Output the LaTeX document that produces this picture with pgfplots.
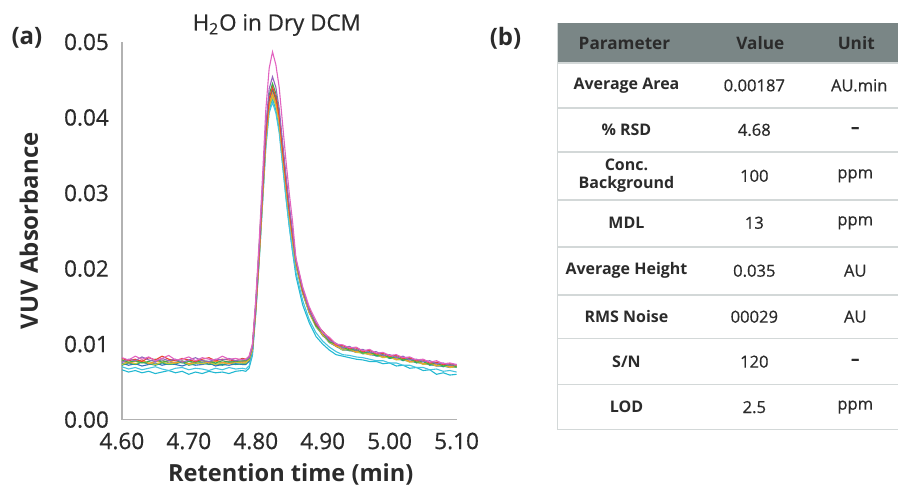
\documentclass[border=0pt]{standalone}
\usepackage{pgfplots}
\usepackage{pgfplotstable}
\pgfplotsset{compat=1.18}
\usepackage{fontspec}
\setmainfont{Open Sans}
\newfontfamily\tickfont[FakeBold=0.6]{Open Sans}

\definecolor{trA}{HTML}{E264C0}
\definecolor{trB}{HTML}{9467BD}
\definecolor{trC}{HTML}{E8432E}
\definecolor{trD}{HTML}{F29B2F}
\definecolor{trE}{HTML}{C9C83A}
\definecolor{trF}{HTML}{3DB04A}
\definecolor{trG}{HTML}{1F9E89}
\definecolor{trH}{HTML}{2F6FBF}
\definecolor{trI}{HTML}{22B8D2}
\definecolor{trJ}{HTML}{45C4DE}
\definecolor{trK}{HTML}{8C8C8C}
\definecolor{hdr}{HTML}{7A8686}
\definecolor{rule}{HTML}{D3D8D8}
\definecolor{txt}{HTML}{2B2B2B}

% eleven overlaid injections, absorbance in AU
\pgfplotstableread{
t      A      B      C      D      E      F      G      H      I      J      K
4.600  0.0082 0.0076 0.0081 0.0078 0.0073 0.0079 0.0072 0.0075 0.0066 0.0070 0.0077
4.610  0.0079 0.0080 0.0078 0.0075 0.0076 0.0076 0.0075 0.0072 0.0063 0.0067 0.0075
4.620  0.0084 0.0078 0.0080 0.0077 0.0074 0.0078 0.0073 0.0074 0.0065 0.0069 0.0078
4.630  0.0080 0.0083 0.0077 0.0079 0.0077 0.0075 0.0076 0.0071 0.0062 0.0066 0.0076
4.640  0.0083 0.0079 0.0082 0.0074 0.0075 0.0077 0.0074 0.0073 0.0064 0.0068 0.0074
4.650  0.0078 0.0077 0.0079 0.0077 0.0073 0.0080 0.0072 0.0075 0.0061 0.0070 0.0077
4.660  0.0081 0.0081 0.0084 0.0076 0.0076 0.0076 0.0075 0.0072 0.0063 0.0067 0.0079
4.670  0.0085 0.0078 0.0080 0.0078 0.0074 0.0078 0.0073 0.0074 0.0065 0.0065 0.0075
4.680  0.0079 0.0080 0.0078 0.0075 0.0075 0.0079 0.0074 0.0073 0.0062 0.0068 0.0076
4.690  0.0080 0.0076 0.0081 0.0077 0.0077 0.0075 0.0076 0.0071 0.0064 0.0069 0.0078
4.700  0.0083 0.0079 0.0079 0.0074 0.0073 0.0077 0.0072 0.0074 0.0060 0.0066 0.0074
4.710  0.0078 0.0082 0.0077 0.0076 0.0075 0.0076 0.0074 0.0072 0.0063 0.0068 0.0077
4.720  0.0082 0.0078 0.0080 0.0078 0.0074 0.0078 0.0075 0.0073 0.0061 0.0067 0.0075
4.730  0.0080 0.0077 0.0082 0.0075 0.0076 0.0077 0.0073 0.0075 0.0064 0.0065 0.0076
4.740  0.0079 0.0080 0.0078 0.0077 0.0073 0.0075 0.0074 0.0071 0.0062 0.0068 0.0078
4.750  0.0084 0.0079 0.0080 0.0076 0.0075 0.0078 0.0072 0.0073 0.0063 0.0066 0.0075
4.760  0.0080 0.0081 0.0079 0.0074 0.0074 0.0076 0.0075 0.0072 0.0061 0.0069 0.0077
4.770  0.0081 0.0078 0.0078 0.0077 0.0076 0.0077 0.0073 0.0074 0.0064 0.0067 0.0076
4.780  0.0079 0.0080 0.0081 0.0076 0.0075 0.0078 0.0074 0.0073 0.0065 0.0068 0.0077
4.785  0.0080 0.0079 0.0080 0.0077 0.0075 0.0078 0.0074 0.0073 0.0064 0.0067 0.0076
4.790  0.0084 0.0082 0.0083 0.0080 0.0079 0.0081 0.0078 0.0077 0.0068 0.0071 0.0080
4.795  0.0100 0.0096 0.0098 0.0094 0.0092 0.0097 0.0093 0.0092 0.0085 0.0088 0.0095
4.800  0.0160 0.0152 0.0150 0.0146 0.0144 0.0155 0.0150 0.0148 0.0140 0.0142 0.0147
4.805  0.0235 0.0225 0.0220 0.0215 0.0212 0.0228 0.0222 0.0218 0.0208 0.0210 0.0216
4.810  0.0320 0.0305 0.0300 0.0293 0.0290 0.0308 0.0300 0.0297 0.0285 0.0284 0.0295
4.815  0.0410 0.0388 0.0378 0.0372 0.0368 0.0385 0.0378 0.0375 0.0362 0.0360 0.0372
4.820  0.0465 0.0438 0.0425 0.0418 0.0414 0.0430 0.0424 0.0422 0.0410 0.0406 0.0416
4.825  0.0487 0.0454 0.0440 0.0432 0.0428 0.0445 0.0438 0.0436 0.0425 0.0420 0.0430
4.830  0.0470 0.0440 0.0427 0.0420 0.0416 0.0432 0.0425 0.0423 0.0410 0.0406 0.0418
4.835  0.0440 0.0412 0.0402 0.0396 0.0392 0.0406 0.0400 0.0398 0.0384 0.0380 0.0394
4.840  0.0392 0.0368 0.0358 0.0352 0.0349 0.0362 0.0356 0.0354 0.0340 0.0337 0.0350
4.845  0.0344 0.0325 0.0316 0.0311 0.0308 0.0320 0.0314 0.0312 0.0296 0.0294 0.0309
4.850  0.0300 0.0284 0.0277 0.0273 0.0270 0.0280 0.0275 0.0273 0.0256 0.0256 0.0271
4.855  0.0262 0.0249 0.0243 0.0239 0.0236 0.0245 0.0240 0.0238 0.0222 0.0223 0.0237
4.860  0.0214 0.0211 0.0212 0.0207 0.0205 0.0210 0.0206 0.0204 0.0190 0.0195 0.0208
4.870  0.0176 0.0174 0.0171 0.0169 0.0168 0.0171 0.0170 0.0167 0.0152 0.0158 0.0170
4.880  0.0149 0.0144 0.0147 0.0142 0.0141 0.0145 0.0141 0.0142 0.0128 0.0132 0.0144
4.890  0.0131 0.0128 0.0126 0.0126 0.0123 0.0124 0.0126 0.0123 0.0110 0.0115 0.0124
4.900  0.0115 0.0116 0.0117 0.0112 0.0113 0.0115 0.0111 0.0112 0.0100 0.0104 0.0114
4.910  0.0109 0.0105 0.0107 0.0105 0.0102 0.0103 0.0105 0.0102 0.0092 0.0096 0.0103
4.920  0.0100 0.0101 0.0099 0.0097 0.0098 0.0100 0.0097 0.0097 0.0086 0.0090 0.0099
4.930  0.0099 0.0095 0.0098 0.0095 0.0092 0.0096 0.0095 0.0092 0.0084 0.0086 0.0093
4.940  0.0095 0.0097 0.0094 0.0092 0.0093 0.0092 0.0091 0.0092 0.0082 0.0085 0.0094
4.950  0.0096 0.0092 0.0095 0.0090 0.0089 0.0093 0.0092 0.0089 0.0080 0.0083 0.0090
4.960  0.0091 0.0093 0.0090 0.0090 0.0088 0.0088 0.0087 0.0089 0.0079 0.0082 0.0090
4.970  0.0093 0.0089 0.0092 0.0087 0.0086 0.0090 0.0089 0.0086 0.0077 0.0080 0.0087
4.980  0.0088 0.0090 0.0087 0.0087 0.0086 0.0085 0.0084 0.0085 0.0077 0.0078 0.0087
4.990  0.0089 0.0085 0.0088 0.0083 0.0082 0.0086 0.0085 0.0083 0.0074 0.0078 0.0083
5.000  0.0085 0.0086 0.0084 0.0084 0.0083 0.0082 0.0081 0.0082 0.0075 0.0075 0.0084
5.010  0.0086 0.0082 0.0085 0.0080 0.0079 0.0083 0.0083 0.0080 0.0071 0.0075 0.0080
5.020  0.0082 0.0084 0.0081 0.0081 0.0080 0.0079 0.0078 0.0079 0.0072 0.0072 0.0081
5.030  0.0083 0.0079 0.0082 0.0077 0.0076 0.0081 0.0080 0.0077 0.0068 0.0072 0.0077
5.040  0.0079 0.0080 0.0078 0.0078 0.0077 0.0076 0.0075 0.0076 0.0069 0.0069 0.0078
5.050  0.0080 0.0077 0.0079 0.0074 0.0073 0.0077 0.0077 0.0074 0.0065 0.0069 0.0074
5.060  0.0076 0.0078 0.0075 0.0075 0.0074 0.0073 0.0072 0.0073 0.0066 0.0066 0.0075
5.070  0.0078 0.0074 0.0076 0.0072 0.0071 0.0075 0.0074 0.0071 0.0060 0.0067 0.0072
5.080  0.0074 0.0075 0.0073 0.0073 0.0072 0.0071 0.0070 0.0071 0.0062 0.0064 0.0073
5.090  0.0075 0.0072 0.0074 0.0070 0.0069 0.0073 0.0072 0.0069 0.0059 0.0065 0.0070
5.100  0.0073 0.0073 0.0072 0.0071 0.0070 0.0070 0.0069 0.0070 0.0060 0.0063 0.0071
}\traces

\begin{document}
\begin{tikzpicture}
\begin{scope}[x=0.5pt,y=-0.5pt]
  \path[use as bounding box] (0,0) rectangle (899,491);
\end{scope}

\begin{axis}[
  at={(61pt,-210pt)}, anchor=south west,
  scale only axis, width=167.5pt, height=189pt,
  xmin=4.6, xmax=5.1, ymin=0, ymax=0.05,
  axis x line=bottom, axis y line=left,
  axis line style={-, draw=black!30, line width=0.7pt},
  xtick={4.6,4.7,4.8,4.9,5.0,5.1},
  ytick={0,0.01,0.02,0.03,0.04,0.05},
  major tick length=0pt,
  /pgf/number format/assume math mode=true,
  tick label style={font=\tickfont\fontsize{11.3}{13}\selectfont, text=txt},
  xticklabel style={yshift=-3pt, /pgf/number format/.cd, fixed, fixed zerofill, precision=2},
  yticklabel style={xshift=-3pt, /pgf/number format/.cd, fixed, fixed zerofill, precision=2},
  scaled y ticks=false,
  every axis plot/.append style={line width=0.55pt, mark=none},
]
\addplot[trI] table[x=t, y=I] {\traces};
\addplot[trJ] table[x=t, y=J] {\traces};
\addplot[trK] table[x=t, y=K] {\traces};
\addplot[trH] table[x=t, y=H] {\traces};
\addplot[trG] table[x=t, y=G] {\traces};
\addplot[trE] table[x=t, y=E] {\traces};
\addplot[trD] table[x=t, y=D] {\traces};
\addplot[trF] table[x=t, y=F] {\traces};
\addplot[trC] table[x=t, y=C] {\traces};
\addplot[trB] table[x=t, y=B] {\traces};
\addplot[trA] table[x=t, y=A] {\traces};
\end{axis}

\begin{scope}[x=0.5pt,y=-0.5pt, every node/.style={text=txt, inner sep=0pt}]
  % panel (a) labels
  \node[font=\fontsize{12}{14}\selectfont\bfseries] at (27,38) {(a)};
  \node[font=\tickfont\fontsize{11.2}{13}\selectfont] at (277,25) {H\textsubscript{2}O in Dry DCM};
  \node[font=\fontsize{12}{14}\selectfont\bfseries, rotate=90] at (29,231) {VUV Absorbance};
  \node[font=\fontsize{11.8}{14}\selectfont\bfseries] at (291,475) {Retention time (min)};

  % panel (b) table
  \node[font=\fontsize{12}{14}\selectfont\bfseries] at (506,38) {(b)};
  \fill[hdr] (558,23) rectangle (899,63);
  \foreach \yy in {63,108,152,200,247,295,339,385,430}
    \draw[rule, line width=0.8pt] (558,\yy) -- (899,\yy);
  \draw[rule, line width=0.8pt] (558,23) -- (558,430);
  \begin{scope}[every node/.append style={font=\fontsize{8.6}{10}\selectfont\bfseries}]
    \node at (625,43) {Parameter};
    \node at (761,43) {Value};
    \node at (857,43) {Unit};
  \end{scope}
  \begin{scope}[every node/.append style={font=\fontsize{8}{9}\selectfont\bfseries, align=center}]
    \node at (627,85.5) {Average Area};
    \node at (627,130) {\% RSD};
    \node at (627,176) {Conc.\\Background};
    \node at (627,223) {MDL};
    \node at (627,271) {Average Height};
    \node at (627,317) {RMS Noise};
    \node at (627,362) {S/N};
    \node at (627,407.5) {LOD};
  \end{scope}
  \begin{scope}[every node/.append style={font=\tickfont\fontsize{8.3}{9}\selectfont}]
    \node at (755,85.5) {0.00187};
    \node at (755,130) {4.68};
    \node at (755,176) {100};
    \node at (755,223) {13};
    \node at (755,271) {0.035};
    \node at (755,317) {00029};
    \node at (755,362) {120};
    \node at (755,407.5) {2.5};
    \node at (860,85.5) {AU.min};
    \node at (856,130) {\bfseries –};
    \node at (856,176) {ppm};
    \node at (856,223) {ppm};
    \node at (856,271) {AU};
    \node at (856,317) {AU};
    \node at (856,362) {\bfseries –};
    \node at (856,407.5) {ppm};
  \end{scope}
\end{scope}
\end{tikzpicture}
\end{document}
